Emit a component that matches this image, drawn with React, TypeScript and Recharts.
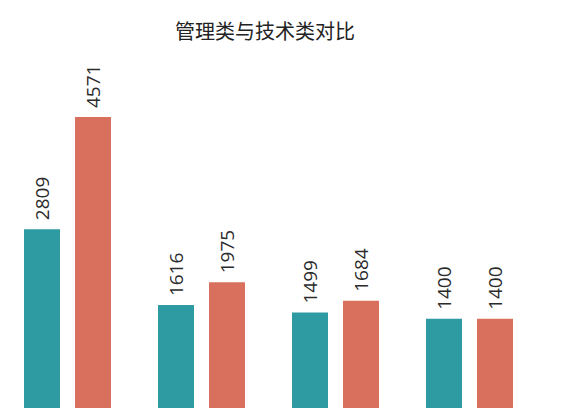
import { BarChart, Bar, XAxis, YAxis, LabelList } from "recharts";

const categories = ["A", "B", "C", "D"];
const managementValues = [2809, 1616, 1499, 1400];
const technicalValues = [4571, 1975, 1684, 1400];

const data = categories.map((name, i) => ({
  name,
  management: managementValues[i],
  technical: technicalValues[i],
}));

const renderLabel = (props: any) => {
  const { x, y, width, value } = props;
  const cx = x + width / 2;
  const cy = y - 9;
  return (
    <text
      x={cx}
      y={cy}
      transform={`rotate(-90, ${cx}, ${cy})`}
      textAnchor="start"
      dominantBaseline="central"
      fill="#2b2b2b"
      fontSize={19}
      fontFamily="'Open Sans', 'Noto Sans', sans-serif"
    >
      {value}
    </text>
  );
};

export default function App() {
  return (
    <div
      style={{
        position: "absolute",
        left: 0,
        top: 0,
        width: 565,
        height: 414,
        background: "#fff",
      }}
    >
      <div
        style={{
          position: "absolute",
          left: 0,
          top: 16,
          width: 530,
          textAlign: "center",
          fontSize: 20,
          color: "#222",
          fontFamily: "'Noto Sans CJK SC', sans-serif",
        }}
      >
        管理类与技术类对比
      </div>
      <BarChart
        width={565}
        height={414}
        data={data}
        margin={{ top: 117, right: 29, bottom: 6, left: 0 }}
        barCategoryGap={23}
        barGap={15}
      >
        <XAxis dataKey="name" hide />
        <YAxis hide domain={[0, "dataMax"]} />
        <Bar
          dataKey="management"
          fill="#2e9ba3"
          barSize={36}
          isAnimationActive={false}
        >
          <LabelList dataKey="management" content={renderLabel} />
        </Bar>
        <Bar
          dataKey="technical"
          fill="#d9705e"
          barSize={36}
          isAnimationActive={false}
        >
          <LabelList dataKey="technical" content={renderLabel} />
        </Bar>
      </BarChart>
    </div>
  );
}
